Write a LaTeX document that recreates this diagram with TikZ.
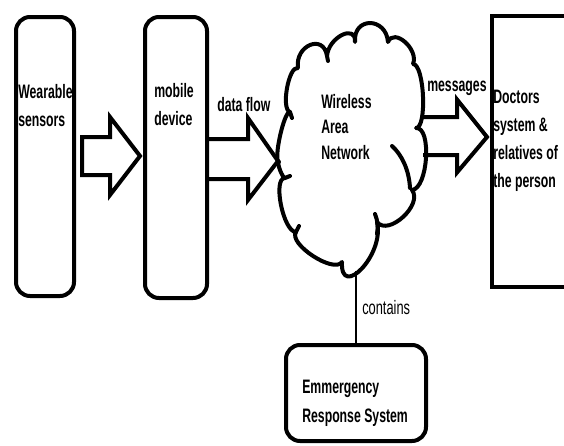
\documentclass[tikz,border=0pt]{standalone}
\usepackage{fontspec}
\setmainfont{Liberation Sans}
\newfontfamily\labfont{Liberation Sans}[FakeStretch=0.63]
\newfontfamily\thinfont{Liberation Sans}[FakeStretch=0.66]
\usetikzlibrary{calc}
\newdimen\pxu \pxu=0.75pt
\tikzset{
  rbox/.style={draw, line width=3pt, rounded corners=14\pxu, inner sep=0pt},
  sbox/.style={draw, line width=3pt, inner sep=0pt},
  lab/.style={inner sep=0pt, align=left, anchor=base west, text=black,
    font={\labfont\bfseries\fontsize{14.6pt}{20.5pt}\selectfont}},
  thinlab/.style={inner sep=0pt, anchor=base west,
    font={\thinfont\fontsize{14.6pt}{20.5pt}\selectfont}},
  blockarrow/.style={draw, line width=3pt, line join=miter},
  cloudline/.style={draw, line width=3pt, line join=round, line cap=round},
  link/.style={draw, line width=2pt}
}
\begin{document}
\begin{tikzpicture}[x=0.75pt,y=-0.75pt]
\useasboundingbox (0,0) rectangle (564,446);
\clip (0,0) rectangle (564,446);
% boxes
\node[rbox, minimum width=58\pxu, minimum height=279\pxu] (ws) at (45,156.5) {};
\node[rbox, minimum width=62\pxu, minimum height=281\pxu] (md) at (176,157.5) {};
\node[sbox, minimum width=110\pxu, minimum height=271\pxu, anchor=north west] (doc) at (490,14) {};
\node[rbox, minimum width=140\pxu, minimum height=96\pxu] (ers) at (356,393) {};
% cloud (Wireless Area Network)
\coordinate (wanS) at (356,271);
\path[cloudline] (279,162)
  .. controls (273,160.7) and (284,110.7) .. (290,112)
  .. controls (280.7,109.3) and (288.7,65.3) .. (298,68)
  .. controls (294.7,45.3) and (323.7,33.3) .. (327,56)
  .. controls (328.3,37.3) and (356.3,23.3) .. (355,42)
  .. controls (353,16.7) and (386,16.7) .. (388,42)
  .. controls (394,27.3) and (419,49.3) .. (413,64)
  .. controls (424.3,64) and (427.3,128) .. (416,128)
  .. controls (432,126.7) and (428,188.7) .. (412,190)
  .. controls (423.3,204.7) and (388.3,236.7) .. (377,222)
  .. controls (385,255) and (340,300) .. (342,262)
  .. controls (334,274) and (288,244) .. (296,232)
  .. controls (283.3,232) and (272.3,178) .. (285,178)
  .. controls (282.3,178) and (276.3,162) .. (279,162) -- cycle;
% inner curls of the cloud
\path[cloudline] (392,146) .. controls (402,155) and (409,170) .. (410,188);
\path[cloudline] (375,214) .. controls (378,221) and (378,228) .. (377,234);
\path[cloudline] (290,112) -- (292,118);
\path[cloudline] (285,178) -- (290,176);
\path[cloudline] (296,232) -- (299,226);
\path[cloudline] (327,56) -- (328,61);
% texts
\node[lab] (tws) at (18,126) {Wearable\\sensors};
\node[lab] (tmd) at (154,125) {mobile\\device};
\node[lab] (tdf) at (217,111) {data flow};
\node[lab, font={\labfont\bfseries\fontsize{14.6pt}{19pt}\selectfont}] (twan) at (321,159) {Wireless\\Area\\Network};
\node[lab] (tmsg) at (427,91) {messages};
\node[lab, font={\labfont\bfseries\fontsize{14.6pt}{21pt}\selectfont}] (tdoc) at (493,187) {Doctors\\system \&\\relatives of\\the person};
\node[lab, font={\labfont\bfseries\fontsize{14.6pt}{21.75pt}\selectfont}] (ters) at (302,422) {Emmergency\\Response System};
\node[thinlab] (tcon) at (362,314) {contains};
% block arrows
\coordinate (a1s) at (82,156);  \coordinate (a1t) at (140,156);
\coordinate (a2s) at (209,159); \coordinate (a2t) at (278,161);
\coordinate (a3s) at (423,136); \coordinate (a3t) at (487,137);
\draw[blockarrow] ($(a1s)+(0,-19)$) -- ($(a1t)+(-30,-19)$) -- ($(a1t)+(-30,-39)$) -- (a1t)
  -- ($(a1t)+(-30,39)$) -- ($(a1t)+(-30,19)$) -- ($(a1s)+(0,19)$) -- cycle;
\draw[blockarrow] ($(a2s)+(0,-20)$) -- ($(a2s)+(39,-20)$) -- ($(a2s)+(39,-41)$) -- (a2t)
  -- ($(a2s)+(39,41)$) -- ($(a2s)+(39,20)$) -- ($(a2s)+(0,20)$);
\draw[blockarrow] ($(a3s)+(0,-19)$) -- ($(a3s)+(34,-19)$) -- ($(a3s)+(34,-36.5)$) -- (a3t)
  -- ($(a3s)+(34,36.5)$) -- ($(a3s)+(34,19)$) -- ($(a3s)+(0,19)$);
% contains link
\draw[link] (wanS) -- (ers.north);
\end{tikzpicture}
\end{document}
